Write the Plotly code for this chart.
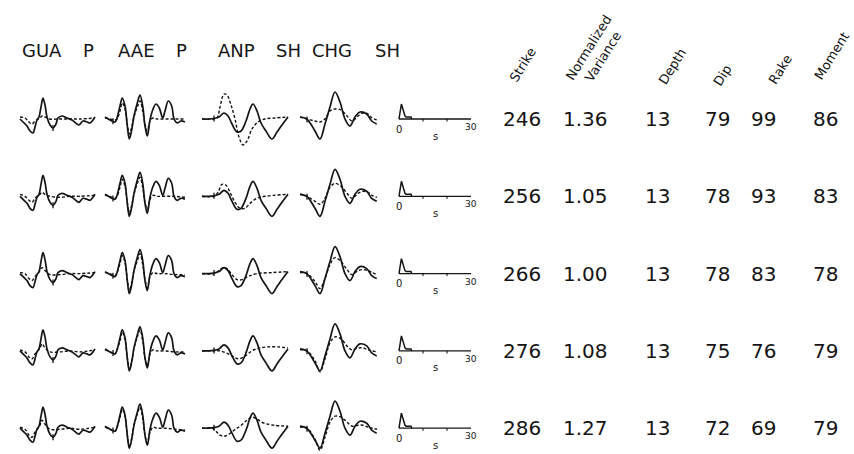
import numpy as np
import plotly.graph_objects as go

# ---------------- data ----------------
STATIONS = ["GUA", "AAE", "ANP", "CHG"]
PHASES = ["P", "P", "SH", "SH"]

# observed waveforms (time in s, amplitude in arbitrary units, up positive)
GUA_T = [0, 3, 7, 10, 13, 15, 17, 19, 21, 23, 25, 27, 30, 33, 36, 38, 42, 47, 52, 57, 59, 63, 67, 70, 73, 75]
GUA_OBS = [0, -3, -7, -12, -14, -8, -1, 2, 12, 21, 14, 2, -6, -9, -5, 1, 3, 1, -1, -5, -6, -2, -3, -4, -1, 2]

AAE_T = [0, 5, 10, 11.7, 15, 17.3, 20, 22.3, 24.3, 26.7, 29, 32.3, 35, 37.7, 40, 42.3, 45, 47.7, 51, 54.3, 57.7, 60, 63.3, 66.7, 69, 72.3, 75.7, 80]
AAE_OBS = [2, -1, -3, 0, 13, 21, 13, -7, -20, -11, 3, 16, 24, 13, -7, -17, -1, 9, 15, 11, 1, 8, 18, 13, 0, -4, -2, -3]

ANP_T = [0, 6, 12, 17, 22, 26, 30, 35, 39, 44, 48, 51, 55, 59, 64, 70, 75, 80, 86]
ANP_OBS = [0, 0, 0.5, 2, 6, 3, -5, -13, -12, -2, 10, 15, 8, -4, -12, -20, -13, -6, 2]

CHG_T = [0, 6.7, 15, 20, 25, 30, 35, 40, 45, 50, 55, 60, 66.7, 71.7, 76.7]
CHG_OBS = [2, 0, -12, -20, -5, 12, 27, 17, 0, -7, 2, 7, 5, -2, -5]

# synthetic waveforms, one per trial solution (rows)
GUA_SYN_T = [0, 5, 9, 12, 15, 20, 22, 25, 30, 40, 50, 60, 75]
GUA_SYN = [
    [2, 1, -3, -5, -2, 1, 3, 2, 0, 0, 0, 0, 1],
    [2, 0, -4, -6, -2, 2, 4, 2, 0, -1, 0, 0, 1],
    [1, 0, -5, -7, -3, 3, 6, 3, -1, -1, 0, 0, 1],
    [1, -1, -6, -8, -3, 3, 7, 3, -1, -1, 0, -1, 1],
    [1, -1, -7, -9, -4, 3, 8, 4, -1, -1, 0, -1, 1],
]

AAE_SYN_T = [0, 5, 10, 12, 15, 17.3, 20, 22.3, 24.3, 26.7, 29, 32.3, 35, 37.7, 40, 42.3, 45, 48, 52, 60, 70, 80]
AAE_SYN = [
    [1, 0, -1, 0, 8, 16, 10, -5, -15, -8, 2, 12, 18, 8, -5, -12, -2, 1, 0, 0, 0, 0],
    [1, 0, -2, 0, 9, 17, 10, -6, -16, -9, 2, 13, 19, 9, -6, -13, -3, 1, 0, 0, 0, -1],
    [1, 0, -2, 1, 10, 18, 11, -6, -17, -9, 3, 13, 20, 9, -6, -14, -3, 1, 0, 0, -1, -1],
    [1, -1, -3, 1, 10, 19, 11, -7, -18, -10, 3, 14, 21, 10, -7, -15, -3, 1, 0, 0, -1, -1],
    [1, -1, -3, 1, 11, 19, 12, -7, -19, -10, 3, 14, 21, 10, -7, -15, -4, 1, 0, 0, -1, -2],
]

ANP_SYN_T = [
    [0, 10, 15, 18, 22, 25, 29, 33, 37, 41, 45, 50, 56, 63, 73, 86],
    [0, 12, 16, 20, 24, 28, 33, 38, 43, 48, 55, 63, 86],
    [0, 12, 17, 21, 25, 30, 35, 40, 46, 55, 70, 86],
    [0, 12, 18, 24, 30, 36, 42, 50, 58, 66, 76, 86],
    [0, 10, 14, 18, 22, 27, 32, 38, 45, 50, 55, 62, 72, 86],
]
ANP_SYN = [
    [0, 0, 1, 12, 25, 24, 14, 0, -18, -26, -22, -10, -3, 0, 1, 2],
    [0, 0, 4, 12, 11, 4, -6, -12, -12, -7, -2, 0, 2],
    [0, 0, 3, 6, 5, -1, -6, -6, -3, 0, 1, 2],
    [0, 0, 0, -2, -5, -8, -6, 0, 3, 4, 4, 3],
    [0, 0, -3, -7, -8, -6, -2, 2, 8, 11, 9, 5, 3, 2],
]

CHG_SYN_T = [0, 7, 15, 20, 25, 30, 35, 41, 47, 52, 58, 63, 68, 72, 77]
CHG_SYN = [
    [2, 0, -2, -3, 0, 8, 10, 9, 3, -2, 3, 6, 5, 1, -1],
    [2, 0, -5, -8, -2, 9, 13, 10, 3, -2, 3, 5, 4, 1, -1],
    [1, 0, -8, -15, -5, 9, 16, 12, 4, -1, 3, 4, 3, 1, -1],
    [1, 0, -10, -21, -8, 8, 14, 12, 5, 1, 3, 3, 1, 0, -1],
    [1, 0, -11, -22, -9, 6, 12, 11, 6, 2, 3, 3, 1, 0, -1],
]

# arrival picks (s) on observed traces
PICK_T = [33, 8, 12, 7]

# source time function (s, amplitude)
STF_T = [0, 0.5, 1.0, 2.5, 3.0, 5.0, 5.3]
STF_A = [0, 6, 15, 3, 2, 2, 0]
STF_TICKS = [0, 10, 20, 30]

# inversion table
STRIKE = ["246", "256", "266", "276", "286"]
VARIANCE = ["1.36", "1.05", "1.00", "1.08", "1.27"]
DEPTH = ["13", "13", "13", "13", "13"]
DIP = ["79", "78", "78", "75", "72"]
RAKE = ["99", "93", "83", "76", "69"]
MOMENT = ["86", "83", "78", "79", "79"]
TABLE_HEADERS = ["Strike", "Normalized<br>Variance", "Depth", "Dip", "Rake", "Moment"]

# ---------------- layout constants ----------------
W, H = 854, 454
ROW_Y0, ROW_DY = 119, 77.3
COL_X0 = [20, 105, 202, 300]
TSCALE = 1.0      # px per s for waveforms
ASCALE = 1.0      # px per amplitude unit
STF_X0, STF_SCALE = 399, 2.4
INK = "#141414"
FONT = "DejaVu Sans"

OBS_T = [GUA_T, AAE_T, ANP_T, CHG_T]
OBS_A = [GUA_OBS, AAE_OBS, ANP_OBS, CHG_OBS]
SYN_T = [[GUA_SYN_T] * 5, [AAE_SYN_T] * 5, ANP_SYN_T, [CHG_SYN_T] * 5]
SYN_A = [GUA_SYN, AAE_SYN, ANP_SYN, CHG_SYN]

fig = go.Figure()


def add_line(x, y, dash=None, width=1.6, shape="spline"):
    fig.add_trace(go.Scatter(
        x=x, y=y, mode="lines",
        line=dict(color=INK, width=width, dash=dash, shape=shape, smoothing=1.0),
        hoverinfo="skip", showlegend=False))


for r in range(5):
    y0 = ROW_Y0 + r * ROW_DY
    for c in range(4):
        x0 = COL_X0[c]
        t = np.array(OBS_T[c], float)
        a = np.array(OBS_A[c], float)
        add_line(x0 + t * TSCALE, y0 - a * ASCALE, width=1.7)
        ts = np.array(SYN_T[c][r], float)
        as_ = np.array(SYN_A[c][r], float)
        add_line(x0 + ts * TSCALE, y0 - as_ * ASCALE, dash="3px,2px", width=1.4)
        # pick mark
        pa = np.interp(PICK_T[c], t, a)
        add_line([x0 + PICK_T[c] * TSCALE] * 2,
                 [y0 - pa * ASCALE - 3, y0 - pa * ASCALE + 3], width=1.3, shape="linear")
    # source time function
    st = np.array(STF_T, float)
    sa = np.array(STF_A, float)
    add_line(STF_X0 + st * STF_SCALE, y0 - sa, width=1.5, shape="linear")
    add_line([STF_X0, STF_X0 + 30 * STF_SCALE], [y0, y0], width=1.3, shape="linear")
    for tk in STF_TICKS[1:-1]:
        add_line([STF_X0 + tk * STF_SCALE] * 2, [y0, y0 + 2.5], width=1.1, shape="linear")
    fig.add_annotation(x=STF_X0, y=y0 + 10, text="0", showarrow=False,
                       font=dict(family=FONT, size=10, color=INK), xanchor="center", yanchor="middle")
    fig.add_annotation(x=STF_X0 + 15 * STF_SCALE, y=y0 + 17, text="s", showarrow=False,
                       font=dict(family=FONT, size=10, color=INK), xanchor="center", yanchor="middle")
    fig.add_annotation(x=STF_X0 + 30 * STF_SCALE, y=y0 + 8, text="30", showarrow=False,
                       font=dict(family=FONT, size=9, color=INK), xanchor="center", yanchor="middle")

    # table values
    cols = [STRIKE, VARIANCE, DEPTH, DIP, RAKE, MOMENT]
    col_x = [522, 585, 657, 717, 763, 825]
    for vals, cx in zip(cols, col_x):
        fig.add_annotation(x=cx, y=y0, text=vals[r], showarrow=False,
                           font=dict(family=FONT, size=20, color=INK),
                           xanchor="center", yanchor="middle")

# station / phase labels
STA_X = [42, 136, 236, 332]
PHA_X = [88, 181, 288, 387]
for s, p, sx, px in zip(STATIONS, PHASES, STA_X, PHA_X):
    fig.add_annotation(x=sx, y=50, text=s, showarrow=False,
                       font=dict(family=FONT, size=18, color=INK), xanchor="center", yanchor="middle")
    fig.add_annotation(x=px, y=50, text=p, showarrow=False,
                       font=dict(family=FONT, size=18, color=INK), xanchor="center", yanchor="middle")

# rotated table headers
HDR_XY = [(522, 65), (596, 52), (672, 66), (722, 75), (780, 69), (831, 56)]
for h, (hx, hy) in zip(TABLE_HEADERS, HDR_XY):
    fig.add_annotation(x=hx, y=hy, text=h, showarrow=False, textangle=-58,
                       font=dict(family=FONT, size=13, color=INK),
                       xanchor="center", yanchor="middle", align="center")

fig.update_layout(
    width=W, height=H, margin=dict(l=0, r=0, t=0, b=0),
    paper_bgcolor="white", plot_bgcolor="white",
    xaxis=dict(range=[0, W], visible=False, fixedrange=True),
    yaxis=dict(range=[H, 0], visible=False, fixedrange=True),
)
fig.write_html("out.html")
